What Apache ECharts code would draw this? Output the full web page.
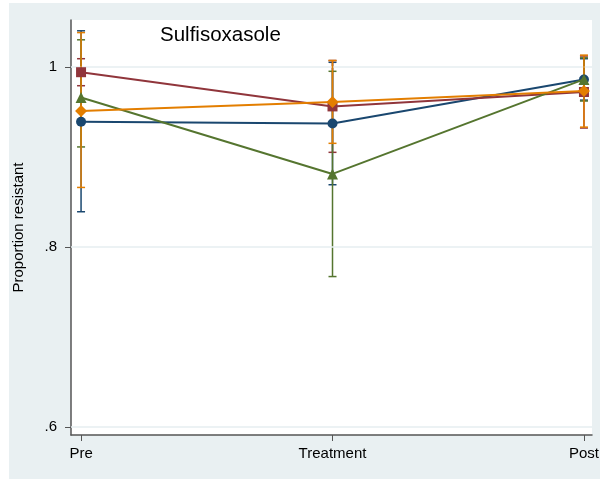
<!DOCTYPE html>
<html><head><meta charset="utf-8">
<script src="https://cdn.jsdelivr.net/npm/echarts@6/dist/echarts.min.js"></script>
<style>
html,body{margin:0;padding:0;background:#fff;}
#panel{position:absolute;left:9px;top:3px;width:591px;height:476px;background:#e9f0f2;}
#chart{position:absolute;left:0;top:0;width:608px;height:481px;}
</style></head>
<body><div id="panel"></div><div id="chart"></div>
<script>
// Data
const categories = ['Pre', 'Treatment', 'Post'];
const yTicks = [0.6, 0.8, 1.0];
const navyMean = [0.939, 0.937, 0.986];
const navyLow  = [0.839, 0.869, 0.963];
const navyHigh = [1.040, 1.005, 1.009];
const maroonMean = [0.994, 0.956, 0.972];
const maroonLow  = [0.979, 0.905, 0.932];
const maroonHigh = [1.009, 1.007, 1.012];
const greenMean = [0.966, 0.881, 0.986];
const greenLow  = [0.911, 0.767, 0.962];
const greenHigh = [1.030, 0.995, 1.010];
const orangeMean = [0.951, 0.961, 0.973];
const orangeLow  = [0.866, 0.915, 0.933];
const orangeHigh = [1.038, 1.007, 1.013];

const groups = [
  {name:'navy', color:'#1a476f', mean:navyMean, low:navyLow, high:navyHigh, symbol:'circle', size:10},
  {name:'maroon', color:'#90353b', mean:maroonMean, low:maroonLow, high:maroonHigh, symbol:'rect', size:10},
  {name:'green', color:'#55752f', mean:greenMean, low:greenLow, high:greenHigh, symbol:'triangle', size:11},
  {name:'orange', color:'#e37e00', mean:orangeMean, low:orangeLow, high:orangeHigh, symbol:'diamond', size:12}
];

const series = [];
groups.forEach((g, gi) => {
  series.push({
    type:'custom', name:g.name+'_err', z:2+gi,
    data: categories.map((c,i)=>[i, g.low[i], g.high[i]]),
    renderItem: function(params, api){
      const x = api.value(0);
      const p1 = api.coord([x, api.value(1)]);
      const p2 = api.coord([x, api.value(2)]);
      const hw = 4;
      const st = {stroke:g.color, lineWidth:1.5};
      return {type:'group', children:[
        {type:'line', shape:{x1:p1[0],y1:p1[1],x2:p2[0],y2:p2[1]}, style:st},
        {type:'line', shape:{x1:p1[0]-hw,y1:p1[1],x2:p1[0]+hw,y2:p1[1]}, style:st},
        {type:'line', shape:{x1:p2[0]-hw,y1:p2[1],x2:p2[0]+hw,y2:p2[1]}, style:st}
      ]};
    }
  });
});
groups.forEach((g, gi) => {
  series.push({
    type:'line', name:g.name, z:10+gi,
    data: categories.map((c,i)=>[i, g.mean[i]]),
    symbol:g.symbol, symbolSize:g.size,
    lineStyle:{color:g.color, width:2},
    itemStyle:{color:g.color},
    emphasis:{disabled:true},
    animation:false
  });
});
// gridlines
series.push({
  type:'line', data:[], z:1,
  markLine:{silent:true, symbol:'none', label:{show:false},
    lineStyle:{color:'#e6eef0', width:1.5, type:'solid'},
    data: yTicks.map(v=>({yAxis:v}))}
});

const chart = echarts.init(document.getElementById('chart'), null, {renderer:'canvas'});
chart.setOption({
  animation:false,
  backgroundColor:'transparent',
  title:{text:'Sulfisoxasole', left:155, top:20,
    textStyle:{fontFamily:'Liberation Sans', fontSize:20.5, fontWeight:'normal', color:'#000'}},
  grid:{left:71, right:16, top:20, bottom:46, show:true, backgroundColor:'#fff', borderWidth:0,
    outerBoundsMode:'none', containLabel:false},
  xAxis:{type:'value', min:-0.04, max:2.032,
    axisLine:{show:true, onZero:false, lineStyle:{color:'#555', width:1.5}},
    axisTick:{show:true, length:6, customValues:[0,1,2], lineStyle:{color:'#555'}},
    axisLabel:{customValues:[0,1,2], formatter:v=>categories[Math.round(v)], margin:11,
      fontFamily:'Liberation Sans', fontSize:15, color:'#000'},
    splitLine:{show:false}},
  yAxis:{type:'value', min:0.591, max:1.052,
    name:'Proportion resistant', nameLocation:'middle', nameGap:45,
    nameTextStyle:{fontFamily:'Liberation Sans', fontSize:15, color:'#000'},
    axisLine:{show:true, onZero:false, lineStyle:{color:'#555', width:1.5}},
    axisTick:{show:true, length:6, customValues:yTicks, lineStyle:{color:'#555'}},
    axisLabel:{customValues:yTicks, formatter:v=> (Math.abs(v-1)<1e-9 ? '1' : String(v).replace(/^0/,'')), margin:14,
      fontFamily:'Liberation Sans', fontSize:15, color:'#000'},
    splitLine:{show:false}},
  series: series
});
</script></body></html>
